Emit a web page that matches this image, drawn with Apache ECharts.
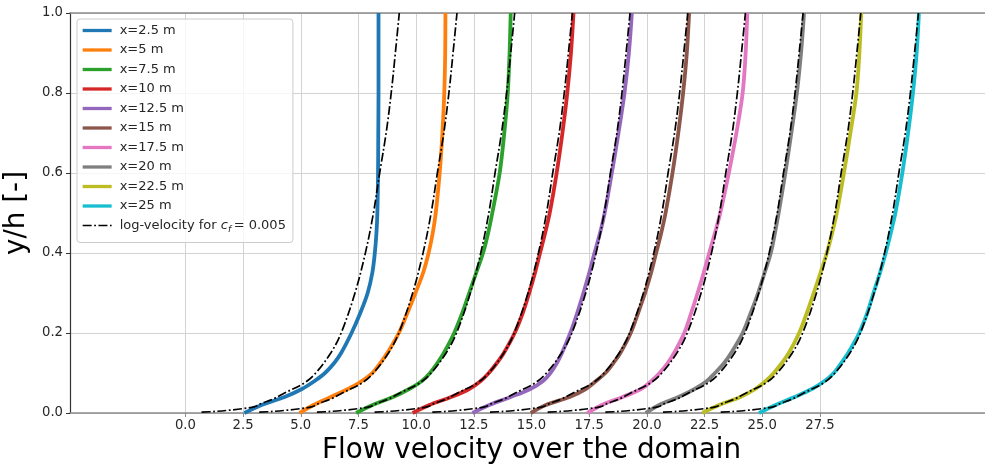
<!DOCTYPE html>
<html>
<head>
<meta charset="utf-8">
<script src="https://cdn.jsdelivr.net/npm/echarts@6/dist/echarts.min.js"></script>
<style>
html,body{margin:0;padding:0;background:#fff;}
#chart{width:985px;height:468px;}
</style>
</head>
<body>
<div id="chart"></div>
<script>
// ---------------- DATA ----------------
const xTicks = [0, 2.5, 5, 7.5, 10, 12.5, 15, 17.5, 20, 22.5, 25, 27.5];
const yTicks = [0, 0.2, 0.4, 0.6, 0.8, 1.0];

const seriesNames = ['x=2.5 m', 'x=5 m', 'x=7.5 m', 'x=10 m', 'x=12.5 m', 'x=15 m', 'x=17.5 m', 'x=20 m', 'x=22.5 m', 'x=25 m'];
const logName = 'log-velocity for c_f = 0.005';

// y/h levels of the measured profiles
const yProfile = [0, 0.02, 0.04, 0.06, 0.08, 0.1, 0.125, 0.15, 0.2, 0.25, 0.3, 0.35, 0.4, 0.45, 0.5, 0.6, 0.7, 0.8, 0.9, 1.0];
// plotted velocity (offset by station) for each station
const prof_2_5  = [2.56, 3.3, 4.3, 5.05, 5.6, 6.05, 6.45, 6.75, 7.2, 7.58, 7.9, 8.1, 8.21, 8.28, 8.32, 8.35, 8.36, 8.37, 8.37, 8.37];
const prof_5    = [4.95, 5.55, 6.3, 7.05, 7.65, 8.1, 8.45, 8.75, 9.25, 9.62, 9.97, 10.3, 10.54, 10.72, 10.85, 11.02, 11.14, 11.22, 11.26, 11.27];
const prof_7_5  = [7.4, 8.11, 9.0, 9.7, 10.25, 10.6, 10.92, 11.2, 11.65, 12.0, 12.3, 12.6, 12.9, 13.12, 13.3, 13.62, 13.82, 13.97, 14.05, 14.1];
const prof_10   = [9.85, 10.57, 11.52, 12.3, 12.8, 13.15, 13.5, 13.8, 14.27, 14.62, 14.9, 15.15, 15.37, 15.59, 15.79, 16.09, 16.34, 16.55, 16.71, 16.82];
const prof_12_5 = [12.44, 13.17, 14.1, 14.95, 15.5, 15.82, 16.1, 16.32, 16.68, 16.98, 17.25, 17.5, 17.73, 17.97, 18.17, 18.48, 18.77, 19.03, 19.22, 19.35];
const prof_15   = [14.97, 15.62, 16.65, 17.35, 17.8, 18.2, 18.55, 18.85, 19.3, 19.62, 19.92, 20.18, 20.4, 20.62, 20.81, 21.11, 21.36, 21.57, 21.73, 21.83];
const prof_17_5 = [17.42, 18.05, 18.95, 19.75, 20.2, 20.55, 20.9, 21.18, 21.62, 21.92, 22.2, 22.46, 22.7, 22.95, 23.18, 23.55, 23.88, 24.15, 24.28, 24.35];
const prof_20   = [19.95, 20.53, 21.37, 22.07, 22.6, 22.95, 23.35, 23.65, 24.15, 24.5, 24.82, 25.1, 25.37, 25.55, 25.71, 26.0, 26.26, 26.5, 26.68, 26.81];
const prof_22_5 = [22.4, 23.13, 24.05, 24.7, 25.15, 25.5, 25.85, 26.15, 26.6, 26.93, 27.23, 27.52, 27.8, 28.03, 28.23, 28.54, 28.82, 29.08, 29.21, 29.29];
const prof_25   = [24.86, 25.58, 26.4, 27.15, 27.7, 28.1, 28.42, 28.72, 29.2, 29.55, 29.82, 30.1, 30.35, 30.57, 30.77, 31.07, 31.32, 31.53, 31.69, 31.79];

// y/h levels of the log-velocity curves
const yLog = [0.002, 0.004, 0.007, 0.011, 0.016, 0.024, 0.035, 0.05, 0.075, 0.1, 0.15, 0.2, 0.3, 0.4, 0.5, 0.6, 0.7, 0.8, 0.9, 1.0];
const log_2_5  = [0.7, 1.3, 1.9, 2.5, 3.0, 3.3, 3.8, 4.3, 5.15, 5.65, 6.3, 6.75, 7.35, 7.8, 8.15, 8.42, 8.7, 8.92, 9.1, 9.27];
const log_5    = [3.2, 3.8, 4.4, 5.0, 5.5, 5.8, 6.3, 6.8, 7.65, 8.15, 8.8, 9.25, 9.85, 10.3, 10.65, 10.92, 11.2, 11.42, 11.6, 11.77];
const log_7_5  = [5.7, 6.3, 6.9, 7.5, 8.0, 8.3, 8.8, 9.3, 10.15, 10.65, 11.3, 11.75, 12.35, 12.8, 13.15, 13.42, 13.7, 13.92, 14.1, 14.27];
const log_10   = [8.2, 8.8, 9.4, 10.0, 10.5, 10.8, 11.3, 11.8, 12.65, 13.15, 13.8, 14.25, 14.85, 15.3, 15.65, 15.92, 16.2, 16.42, 16.6, 16.77];
const log_12_5 = [10.7, 11.3, 11.9, 12.5, 13.0, 13.3, 13.8, 14.3, 15.15, 15.65, 16.3, 16.75, 17.35, 17.8, 18.15, 18.42, 18.7, 18.92, 19.1, 19.27];
const log_15   = [13.2, 13.8, 14.4, 15.0, 15.5, 15.8, 16.3, 16.8, 17.65, 18.15, 18.8, 19.25, 19.85, 20.3, 20.65, 20.92, 21.2, 21.42, 21.6, 21.77];
const log_17_5 = [15.7, 16.3, 16.9, 17.5, 18.0, 18.3, 18.8, 19.3, 20.15, 20.65, 21.3, 21.75, 22.35, 22.8, 23.15, 23.42, 23.7, 23.92, 24.1, 24.27];
const log_20   = [18.2, 18.8, 19.4, 20.0, 20.5, 20.8, 21.3, 21.8, 22.65, 23.15, 23.8, 24.25, 24.85, 25.3, 25.65, 25.92, 26.2, 26.42, 26.6, 26.77];
const log_22_5 = [20.7, 21.3, 21.9, 22.5, 23.0, 23.3, 23.8, 24.3, 25.15, 25.65, 26.3, 26.75, 27.35, 27.8, 28.15, 28.42, 28.7, 28.92, 29.1, 29.27];
const log_25   = [23.2, 23.8, 24.4, 25.0, 25.5, 25.8, 26.3, 26.8, 27.65, 28.15, 28.8, 29.25, 29.85, 30.3, 30.65, 30.92, 31.2, 31.42, 31.6, 31.77];

// ---------------- STYLE / BUILD ----------------
const profiles = [prof_2_5, prof_5, prof_7_5, prof_10, prof_12_5, prof_15, prof_17_5, prof_20, prof_22_5, prof_25];
const logs = [log_2_5, log_5, log_7_5, log_10, log_12_5, log_15, log_17_5, log_20, log_22_5, log_25];
const colors = ['#1f77b4', '#ff7f0e', '#2ca02c', '#d62728', '#9467bd', '#8c564b', '#e377c2', '#7f7f7f', '#bcbd22', '#17becf'];
const FONT = 'DejaVu Sans';
const DASHDOT = [9, 2.5, 1.8, 2.5];

const series = [];
profiles.forEach((xs, i) => {
  series.push({
    type: 'line', name: seriesNames[i],
    data: xs.map((x, k) => [x, yProfile[k]]),
    symbol: 'none', showSymbol: false, smooth: 0.35,
    color: colors[i],
    lineStyle: { color: colors[i], width: 3.8 },
    z: 2, animation: false
  });
});
logs.forEach((xs) => {
  series.push({
    type: 'line', name: logName,
    data: xs.map((x, k) => [x, yLog[k]]),
    symbol: 'none', showSymbol: false, smooth: 0.35,
    color: '#000',
    lineStyle: { color: '#000', width: 1.7, type: DASHDOT },
    z: 3, animation: false
  });
});

const chart = echarts.init(document.getElementById('chart'), null, { renderer: 'canvas' });
chart.setOption({
  animation: false,
  backgroundColor: '#fff',
  textStyle: { fontFamily: FONT },
  grid: { left: 70, right: -8, top: 13, bottom: 55, containLabel: false, outerBoundsMode: 'none' },
  legend: {
    orient: 'vertical', left: 77, top: 19,
    itemWidth: 29, itemHeight: 14, itemGap: 6.5,
    padding: [5, 7, 8, 4],
    backgroundColor: 'rgba(255,255,255,0.8)',
    borderColor: '#cccccc', borderWidth: 1, borderRadius: 3,
    itemStyle: { opacity: 0 },
    textStyle: {
      fontSize: 13, color: '#262626', fontFamily: FONT, padding: [0, 0, 0, 3],
      rich: {
        n: { fontSize: 13, color: '#262626', fontFamily: FONT, lineHeight: 18 },
        i: { fontSize: 13, color: '#262626', fontFamily: FONT, fontStyle: 'italic', lineHeight: 18 },
        s: { fontSize: 9, color: '#262626', fontFamily: FONT, fontStyle: 'italic', lineHeight: 8, verticalAlign: 'bottom' }
      }
    },
    formatter: function (name) {
      if (name === logName) return '{n|log-velocity for }{i|c}{s|f}{n|\u2009= 0.005}';
      return name;
    },
    data: seriesNames.map(n => ({ name: n, lineStyle: { width: 3.3 } }))
      .concat([{ name: logName, lineStyle: { width: 1.7, type: DASHDOT } }])
  },
  xAxis: [{
    type: 'value', min: -5, max: 35, position: 'bottom',
    axisLine: { show: true, onZero: false, lineStyle: { color: '#8c8c8c', width: 1.6 } },
    axisTick: { show: true, customValues: xTicks, length: 4, lineStyle: { color: '#8c8c8c' } },
    axisLabel: { customValues: xTicks, formatter: v => v.toFixed(1), fontSize: 13.2, color: '#262626', margin: 6, fontFamily: FONT },
    splitLine: { show: true, lineStyle: { color: '#d3d3d3', width: 1 } },
    name: 'Flow velocity over the domain', nameLocation: 'middle', nameGap: 21,
    nameTextStyle: { fontSize: 27.8, color: '#000', fontFamily: FONT }
  }, {
    type: 'value', min: -5, max: 35, position: 'top',
    axisLine: { show: true, onZero: false, lineStyle: { color: '#8c8c8c', width: 1.6 } },
    axisTick: { show: false }, axisLabel: { show: false }, splitLine: { show: false }
  }],
  yAxis: {
    type: 'value', min: 0, max: 1, interval: 0.2,
    axisLine: { show: true, onZero: false, lineStyle: { color: '#333333', width: 1.2 } },
    axisTick: { show: true, length: 4, customValues: yTicks, lineStyle: { color: '#333333' } },
    axisLabel: { customValues: yTicks, formatter: v => v.toFixed(1), fontSize: 13.2, color: '#262626', margin: 7, fontFamily: FONT },
    splitLine: { show: true, lineStyle: { color: '#d3d3d3', width: 1 } },
    name: 'y/h [-]', nameLocation: 'middle', nameGap: 35, nameRotate: 90,
    nameTextStyle: { fontSize: 27.8, color: '#000', fontFamily: FONT }
  },
  series: series
});
</script>
</body>
</html>
